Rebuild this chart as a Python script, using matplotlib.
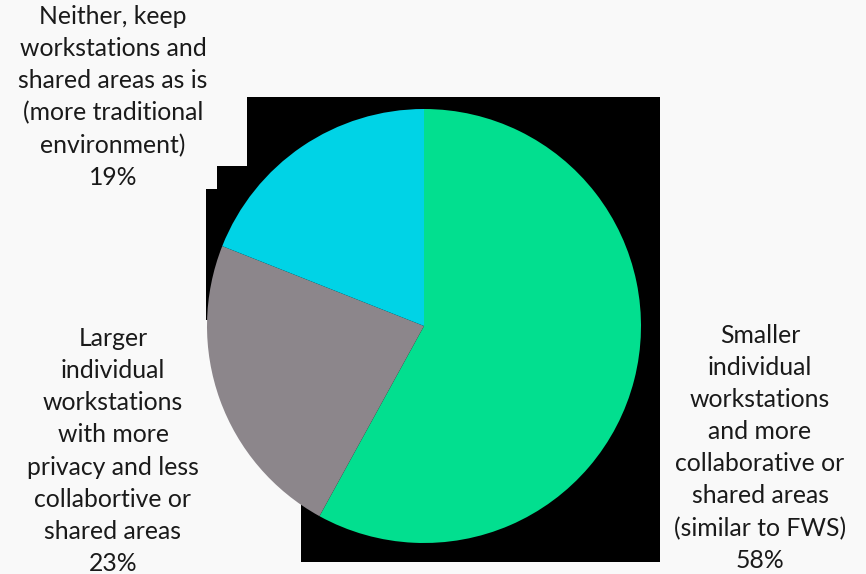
import matplotlib
matplotlib.use("Agg")
import matplotlib.pyplot as plt
from matplotlib.patches import Rectangle

# survey answers: preferred workspace layout
labels = [
    "Smaller\nindividual\nworkstations\nand more\ncollaborative or\nshared areas\n(similar to FWS)",
    "Larger\nindividual\nworkstations\nwith more\nprivacy and less\ncollabortive or\nshared areas",
    "Neither, keep\nworkstations and\nshared areas as is\n(more traditional\nenvironment)",
]
shares = [58, 23, 19]
colors = ["#02df8f", "#8c868b", "#00d3e6"]

W, H = 866, 574
bg = "#f9f9f9"
ink = "#1a1a1a"

plt.rcParams["font.family"] = ["Lato", "DejaVu Sans"]

fig = plt.figure(figsize=(W / 100, H / 100), dpi=100, facecolor=bg)


def box(x0, y0, x1, y1, color):
    # rectangle given in pixels measured from the top-left corner
    fig.patches.append(Rectangle((x0 / W, 1 - y1 / H), (x1 - x0) / W, (y1 - y0) / H,
                                 transform=fig.transFigure, facecolor=color,
                                 edgecolor="none", zorder=0))


# black plot area behind the pie, partly hidden by the label boxes
box(206, 97, 660, 562, "black")
box(0, 0, 247, 166, bg)
box(0, 166, 217, 189, bg)
box(0, 320, 301, 574, bg)

cx, cy, r = 424, 326, 217
ax = fig.add_axes([(cx - r) / W, 1 - (cy + r) / H, 2 * r / W, 2 * r / H], zorder=2)
ax.set_facecolor("none")
ax.pie(shares, colors=colors, startangle=90, counterclock=False,
       wedgeprops=dict(linewidth=0))
ax.set_xlim(-1, 1)
ax.set_ylim(-1, 1)
ax.set_aspect("equal")
ax.axis("off")

# label positions (pixels from the top-left corner)
spots = [(760, 448), (113, 451), (113, 97)]
for lab, val, (tx, ty) in zip(labels, shares, spots):
    fig.text(tx / W, 1 - ty / H, f"{lab}\n{val}%", ha="center", va="center",
             multialignment="center", fontsize=17.8, color=ink, linespacing=1.48,
             zorder=3)

fig.savefig("out.png", dpi=100, facecolor=bg)
